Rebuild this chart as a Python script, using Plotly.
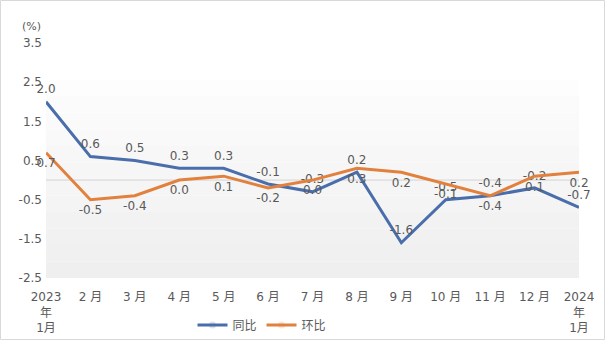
import plotly.graph_objects as go

months = ["2023<br>年<br>1月", "2 月", "3 月", "4 月", "5 月", "6 月", "7 月", "8 月",
          "9 月", "10 月", "11 月", "12 月", "2024<br>年<br>1月"]
yoy = [2.0, 0.6, 0.5, 0.3, 0.3, -0.1, -0.3, 0.2, -1.6, -0.5, -0.4, -0.2, -0.7]
mom = [0.7, -0.5, -0.4, 0.0, 0.1, -0.2, 0.0, 0.3, 0.2, -0.1, -0.4, 0.1, 0.2]
y_ticks = [3.5, 2.5, 1.5, 0.5, -0.5, -1.5, -2.5]

FONT = "DejaVu Sans, Noto Sans CJK SC"
GREY = "#595959"
BLUE = "#4a6eab"
ORANGE = "#e2803d"

xs = list(range(len(months)))
fig = go.Figure()
fig.add_trace(go.Scatter(
    x=xs, y=yoy, name="同比", mode="lines+markers+text",
    line=dict(color=BLUE, width=3), marker=dict(size=7, opacity=0),
    text=[f"{v:.1f}" for v in yoy], textposition="top center",
    textfont=dict(family=FONT, size=12, color=GREY), cliponaxis=False))
fig.add_trace(go.Scatter(
    x=xs, y=mom, name="环比", mode="lines+markers+text",
    line=dict(color=ORANGE, width=3), marker=dict(size=7, opacity=0),
    text=[f"{v:.1f}" for v in mom], textposition="bottom center",
    textfont=dict(family=FONT, size=12, color=GREY), cliponaxis=False))

# subtle gradient background bands
shapes = []
n = 12
top, bot = 2.56, -2.5
for i in range(n):
    y0 = top - (top - bot) * i / n
    y1 = top - (top - bot) * (i + 1) / n
    g = int(253 - (253 - 239) * i / (n - 1))
    shapes.append(dict(type="rect", xref="paper", yref="y", x0=0, x1=1, y0=y1, y1=y0,
                       fillcolor=f"rgb({g},{g},{g})", line=dict(width=0), layer="below"))
# zero line
shapes.append(dict(type="line", xref="paper", yref="y", x0=0, x1=1, y0=0, y1=0,
                   line=dict(color="#d4d4d4", width=1), layer="below"))
# outer border
L, R, T, B = 46, 26, 43, 62
W, H = 605, 340
pw, ph = W - L - R, H - T - B
shapes.append(dict(type="rect", xref="paper", yref="paper",
                   x0=-L / pw + 0.5 / pw, x1=1 + (R - 0.5) / pw,
                   y0=-B / ph + 0.5 / ph, y1=1 + (T - 0.5) / ph,
                   line=dict(color="#d9d9d9", width=1), fillcolor="rgba(0,0,0,0)"))

fig.update_layout(
    width=W, height=H,
    margin=dict(l=L, r=R, t=T, b=B, autoexpand=False),
    paper_bgcolor="white", plot_bgcolor="white",
    shapes=shapes,
    showlegend=True,
    legend=dict(orientation="h", x=(262 - L) / pw, xanchor="center", y=-(325 - 278) / ph,
                yanchor="middle", font=dict(family=FONT, size=12, color=GREY), itemwidth=30,
                tracegroupgap=0, bgcolor="rgba(0,0,0,0)"),
    xaxis=dict(range=[0, 12], tickmode="array", tickvals=xs, ticktext=months,
               showgrid=False, zeroline=False, showline=False, ticks="",
               ticklabelstandoff=10, automargin=False,
               tickfont=dict(family=FONT, size=12, color=GREY), fixedrange=True),
    yaxis=dict(range=[-2.5, 3.5], tickmode="array", tickvals=y_ticks,
               ticktext=[f"{v:.1f}" for v in y_ticks],
               showgrid=False, zeroline=False, showline=False, ticks="",
               ticklabelstandoff=3, automargin=False,
               tickfont=dict(family=FONT, size=12, color=GREY), fixedrange=True),
    annotations=[dict(text="(%)", xref="paper", yref="paper", x=-26 / pw, y=1 + 16 / ph,
                      xanchor="left", yanchor="middle", showarrow=False,
                      font=dict(family=FONT, size=11, color=GREY))],
)
fig.write_html("out.html")
